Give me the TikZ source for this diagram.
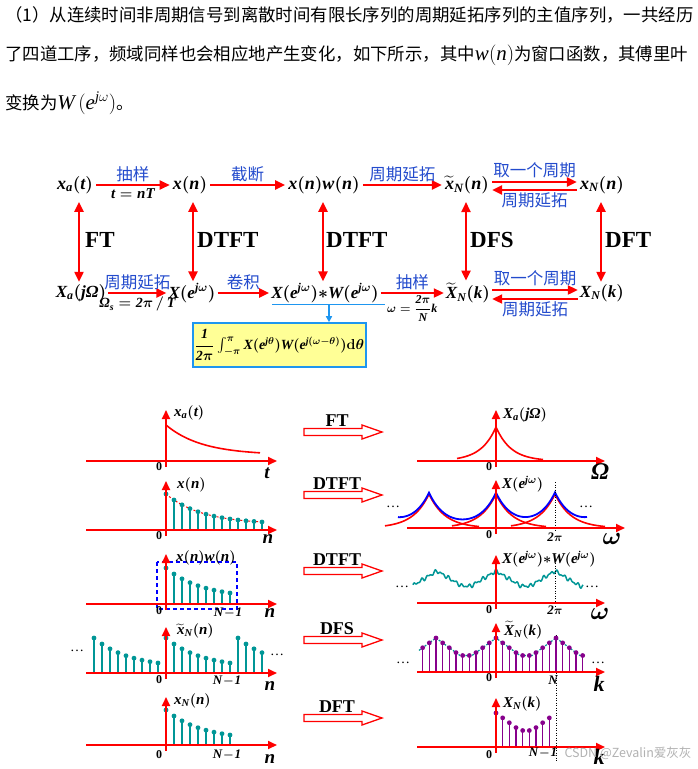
\documentclass[tikz,border=0pt]{standalone}
\usepackage{fontspec}
\usepackage{amsmath}
\setmainfont{Liberation Serif}
\newfontfamily\cjk{Noto Sans CJK SC}
\newfontfamily\tnr[NFSSFamily=lsr]{Liberation Serif}
\DeclareMathAlphabet{\mtb}{TU}{lsr}{bx}{it}
\DeclareMathAlphabet{\mti}{TU}{lsr}{m}{it}
\usetikzlibrary{arrows.meta}
\definecolor{lblue}{RGB}{35,75,205}
\definecolor{teal2}{RGB}{0,150,150}
\definecolor{purp}{RGB}{135,0,140}
\definecolor{boxblue}{RGB}{30,150,240}
\definecolor{boxyel}{RGB}{255,255,150}
\newcommand\mb[1]{{\boldmath$\mtb{#1}$}}
\newcommand\fs[1]{\fontsize{#1}{#1}\selectfont}
\newcommand\Om{\text{\bfseries\itshape Ω}}
\begin{document}
\begin{tikzpicture}[x=1pt,y=-1pt,
  tnode/.style={inner sep=3pt, font=\fs{18}},
  bnode/.style={inner sep=2pt, minimum height=22pt, font=\fs{17}},
  cn/.style={font=\cjk\fs{16.5}, text=lblue, inner sep=1pt},
  sub/.style={font=\fs{15}, inner sep=1pt},
  rarr/.style={draw=red, line width=2.2pt, -{Triangle[length=10pt,width=9pt]}},
  dbl/.style={draw=red, line width=2.2pt, {Triangle[length=10pt,width=9pt]}-{Triangle[length=10pt,width=9pt]}},
  tlab/.style={font=\bfseries\fs{23}, anchor=west, inner sep=0pt},
  axis/.style={draw=red, line width=1.8pt, -{Triangle[length=9pt,width=8pt]}},
  stem/.style={draw=teal2, line width=1.4pt},
  pstem/.style={draw=purp, line width=1.4pt},
  zero/.style={font=\bfseries\fs{12}, inner sep=0pt},
  plab/.style={font=\fs{15}, inner sep=0pt, anchor=west},
  alab/.style={font=\fs{19}, inner sep=0pt},
  nlab/.style={font=\fs{13}, inner sep=0pt},
  dots/.style={font=\fs{14}, inner sep=0pt},
  hol/.style={draw=red, line width=1.3pt, fill=white},
  hlab/.style={font=\bfseries\fs{18}, inner sep=0pt},
  vdots/.style={draw=black, line width=0.9pt, dash pattern=on 1pt off 1.5pt},
]
\useasboundingbox (0,0) rectangle (698,769);
\fill[white] (0,0) rectangle (698,769);

% ---------- paragraph ----------
\node[anchor=west, inner sep=0pt, font=\cjk\fs{17.4}] (p1) at (5,15) {（1）从连续时间非周期信号到离散时间有限长序列的周期延拓序列的主值序列，一共经历};
\node[anchor=west, inner sep=0pt, font=\cjk\fs{17.4}] (p2) at (5,55) {了四道工序，频域同样也会相应地产生变化，如下所示，其中{\fs{21}$\mti{w(n)}$}为窗口函数，其傅里叶};
\node[anchor=west, inner sep=0pt, font=\cjk\fs{17.4}] (p3) at (5,103) {变换为{\fs{21}$\mti{W\,(e^{j\omega})}$}。};

% ---------- flowchart ----------
\node[tnode] (xa) at (75,185) {\mb{x_a(t)}};
\node[tnode] (xn) at (190,185) {\mb{x(n)}};
\node[tnode] (xw) at (324,185) {\mb{x(n)w(n)}};
\node[tnode] (xt) at (467,185) {\mb{\widetilde{x}_N(n)}};
\node[tnode] (xN) at (602,185) {\mb{x_N(n)}};
\node[bnode] (Xa) at (81,293) {\mb{X_a(j\Om)}};
\node[bnode] (Xe) at (192,293) {\mb{X(e^{j\omega})}};
\node[bnode] (XW) at (325,293) {\mb{X(e^{j\omega}){\ast}W(e^{j\omega})}};
\node[bnode] (Xt) at (468,293) {\mb{\widetilde{X}_N(k)}};
\node[bnode] (XN) at (602,293) {\mb{X_N(k)}};

\draw[rarr] (xa) -- node[cn, above=1pt]{抽样} node[sub, below=2pt]{\mb{t=nT}} (xn);
\draw[rarr] (xn) -- node[cn, above=1pt]{截断} (xw);
\draw[rarr] (xw) -- node[cn, above=1pt]{周期延拓} (xt);
\draw[rarr] ([yshift=3pt]xt.east) -- node[cn, above=2pt]{取一个周期} ([yshift=3pt]xN.west);
\draw[rarr] ([yshift=-5pt]xN.west) -- node[cn, below=1pt]{周期延拓} ([yshift=-5pt]xt.east);

\draw[rarr] (Xa) -- node[cn, above=1pt]{周期延拓} node[sub, below=2pt, font=\fs{14}]{\mb{\Om_s=2\pi\,/\,T}} (Xe);
\draw[rarr] (Xe) -- node[cn, above=1pt]{卷积} (XW);
\draw[rarr] (XW) -- node[cn, above=1pt]{抽样} node[nlab, below=1pt, font=\fs{12}]{\mb{\omega=\dfrac{2\pi}{N}k}} (Xt);
\draw[rarr] ([yshift=3pt]Xt.east) -- node[cn, above=2pt]{取一个周期} ([yshift=3pt]XN.west);
\draw[rarr] ([yshift=-6pt]XN.west) -- node[cn, below=1pt]{周期延拓} ([yshift=-6pt]Xt.east);

\draw[dbl] ([xshift=4pt,yshift=-5pt]xa.south) -- ([xshift=4pt]xa.south |- Xa.north);
\draw[dbl] ([xshift=3pt,yshift=-5pt]xn.south) -- ([xshift=3pt]xn.south |- Xe.north);
\draw[dbl] ([xshift=-1pt,yshift=-5pt]xw.south) -- ([xshift=-1pt]xw.south |- XW.north);
\draw[dbl] ([xshift=-1pt,yshift=-5pt]xt.south) -- ([xshift=-1pt]xt.south |- Xt.north);
\draw[dbl] ([xshift=-1pt,yshift=-5pt]xN.south) -- ([xshift=-1pt]xN.south |- XN.north);
\node[tlab] (lFT) at (85,240) {FT};
\node[tlab] (lD1) at (197,240) {DTFT};
\node[tlab] (lD2) at (326,240) {DTFT};
\node[tlab] (lDS) at (470,240) {DFS};
\node[tlab] (lDF) at (605,240) {DFT};

\node[draw=boxblue, fill=boxyel, line width=1.6pt, minimum width=165pt, minimum height=44pt, inner sep=2pt, font=\fs{14}] (conv) at (279.5,345)
  {\mb{\dfrac{1}{2\pi}\int_{-\pi}^{\pi}X(e^{j\theta})W(e^{j(\omega-\theta)})\mathbf{d}\theta}};
\draw[boxblue, line width=1.6pt] ([xshift=3pt]XW.south west) -- ([xshift=4pt]XW.south east);
\draw[boxblue, line width=1.6pt, -{Triangle[length=6pt,width=6pt]}] ([xshift=4pt]XW.south) -- ([xshift=4pt]XW.south |- conv.north);

% ---------- hollow arrows ----------
\foreach \yy/\lab [count=\i] in {432/FT,495/DTFT,571/DTFT,640/DFS,718/DFT} {
  \draw[hol] (304,\yy-3.5) -- (362,\yy-3.5) -- (362,\yy-7) -- (382,\yy) -- (362,\yy+7) -- (362,\yy+3.5) -- (304,\yy+3.5) -- cycle;
  \node[hlab] (h\i) at (337,\yy-11.5) {\lab};
}

% ---------- left plots ----------
% L1
\draw[red, line width=1.6pt, domain=166:260, samples=60] plot (\x, {461-(6+30*0.8^((\x-166)/8))});
\draw[axis] (86,461) -- (277,461);
\draw[axis] (166,467) -- (166,410);
\node[plab] (l1) at (174,413) {\mb{x_a(t)}};
\node[zero] (z1) at (159,467) {0};
\node[alab] (t1) at (267,473) {\mb{t}};
% L2
\foreach \k in {0,...,12} {
  \pgfmathsetmacro\hh{6+30*0.8^\k}
  \draw[stem] (166+8*\k,530) -- (166+8*\k,530-\hh);
}
\draw[red, line width=1pt, dash pattern=on 2pt off 2pt, domain=166:262, samples=50] plot (\x, {530-(6+30*0.8^((\x-166)/8))});
\foreach \k in {0,...,12} {
  \pgfmathsetmacro\hh{6+30*0.8^\k}
  \fill[teal2] (166+8*\k,530-\hh) circle (2.4pt);
}
\draw[axis] (86,530) -- (277,530);
\draw[axis] (166,536) -- (166,481);
\node[plab] (l2) at (177,485) {\mb{x(n)}};
\node[zero] (z2) at (159,536) {0};
\node[alab] (n2) at (268,539) {\mb{n}};
% L3
\foreach \k in {0,...,8} {
  \pgfmathsetmacro\hh{6+30*0.8^\k}
  \draw[stem] (166+8*\k,604) -- (166+8*\k,604-\hh);
  \fill[teal2] (166+8*\k,604-\hh) circle (2.4pt);
}
\draw[blue, line width=1.2pt, dash pattern=on 4pt off 3pt] (157,562) rectangle (237,609);
\draw[axis] (86,604) -- (277,604);
\draw[axis] (166,610) -- (166,554);
\node[plab] (l3) at (176,558) {\mb{x(n)w(n)}};
\node[zero] (z3) at (159,611) {0};
\node[nlab] (m3) at (228,613) {\mb{N\!-\!1}};
\node[alab] (n3) at (270,613) {\mb{n}};
% L4
\foreach \k in {-9,...,12} {
  \pgfmathsetmacro\rr{Mod(\k,9)}
  \pgfmathsetmacro\hh{5+30*0.8^\rr}
  \draw[stem] (166+8*\k,673) -- (166+8*\k,673-\hh);
  \fill[teal2] (166+8*\k,673-\hh) circle (2.4pt);
}
\draw[axis] (86,673) -- (277,673);
\draw[axis] (166,679) -- (166,627);
\node[plab] (l4) at (177,631) {\mb{\widetilde{x}_N(n)}};
\node[dots] (d4a) at (77,651) {\ldots};
\node[dots] (d4b) at (277,655) {\ldots};
\node[zero] (z4) at (159,680) {0};
\node[nlab] (m4) at (227,681) {\mb{N\!-\!1}};
\node[alab] (n4) at (270,686) {\mb{n}};
% L5
\foreach \k in {0,...,8} {
  \pgfmathsetmacro\hh{5+30*0.8^\k}
  \draw[stem] (166+8*\k,745) -- (166+8*\k,745-\hh);
  \fill[teal2] (166+8*\k,745-\hh) circle (2.4pt);
}
\draw[axis] (86,745) -- (277,745);
\draw[axis] (166,751) -- (166,697);
\node[plab] (l5) at (174,701) {\mb{x_N(n)}};
\node[zero] (z5) at (159,755) {0};
\node[nlab] (m5) at (227,755) {\mb{N\!-\!1}};
\node[alab] (n5) at (270,759) {\mb{n}};

% ---------- right plots ----------
% R1
\draw[red, line width=1.6pt, domain=457:543, samples=87] plot (\x, {461-34*exp(-abs(\x-496)/15)});
\draw[axis] (417,461) -- (605,461);
\draw[axis] (496,467) -- (496,410);
\node[plab] (r1) at (503,415) {\mb{X_a(j\Om)}};
\node[zero] (rz1) at (489,467) {0};
\node[font=\fs{24}, inner sep=0pt] (O1) at (600,472) {\mb{\Om}};
% R2
\foreach \c in {429,496,555} {
  \draw[red, line width=1.6pt, domain=\c-44:\c+50, samples=95] plot (\x, {528-34*exp(-abs(\x-\c)/16)});
}
\draw[blue, line width=1.8pt, domain=398:587, samples=190] plot (\x, {528-(34*exp(-abs(\x-370)/16)+34*exp(-abs(\x-429)/16)+34*exp(-abs(\x-496)/16)+34*exp(-abs(\x-555)/16)+34*exp(-abs(\x-614)/16))});
\draw[vdots] (555,482) -- (555,532);
\draw[axis] (407,528) -- (625,528);
\draw[axis] (496,534) -- (496,480);
\node[plab] (r2) at (502,484) {\mb{X(e^{j\omega})}};
\node[dots] (d2a) at (393,507) {\ldots};
\node[dots] (d2b) at (586,507) {\ldots};
\node[zero] (rz2) at (489,535) {0};
\node[nlab] (tp2) at (555,537) {\mb{2\pi}};
\node[font=\fs{24}, inner sep=0pt] (w2) at (612,539) {\mb{\omega}};
% R3
\draw[teal2, line width=1.5pt, domain=413:583, samples=341] plot (\x, {603-(17+15*max(0,1-min(abs(\x-437),abs(\x-496),abs(\x-555))/25)+1.3*sin(53*(\x-413))+0.9*sin(83*(\x-413)+40))});
\draw[vdots] (555,563) -- (555,606);
\draw[axis] (417,603) -- (605,603);
\draw[axis] (496,609) -- (496,555);
\node[plab] (r3) at (502,559) {\mb{X(e^{j\omega}){\ast}W(e^{j\omega})}};
\node[dots] (d3a) at (402,587) {\ldots};
\node[dots] (d3b) at (592,587) {\ldots};
\node[zero] (rz3) at (489,610) {0};
\node[nlab] (tp3) at (555,610) {\mb{2\pi}};
\node[font=\fs{24}, inner sep=0pt] (w3) at (600,614) {\mb{\omega}};
% R4
\draw[vdots] (556,635) -- (556,762);
\draw[teal2, line width=1.2pt, dash pattern=on 2pt off 1.5pt, domain=419:585, samples=167] plot (\x, {672-(16.5+17.5*max(0,1-min(abs(\x-436),abs(\x-496),abs(\x-556))/24))});
\foreach \k in {-11,...,13} {
  \pgfmathsetmacro\rr{Mod(\k,9)}
  \pgfmathsetmacro\mm{min(\rr,9-\rr)}
  \pgfmathsetmacro\hh{16.5+17.5*max(0,1-\mm*6.667/24)}
  \draw[pstem] (496+6.667*\k,672) -- (496+6.667*\k,672-\hh);
  \fill[purp] (496+6.667*\k,672-\hh) circle (2.4pt);
}
\draw[axis] (417,672) -- (605,672);
\draw[axis] (496,678) -- (496,623);
\node[plab] (r4) at (504,630) {\mb{\widetilde{X}_N(k)}};
\node[dots] (d4c) at (403,663) {\ldots};
\node[dots] (d4d) at (598,663) {\ldots};
\node[zero] (rz4) at (489,678) {0};
\node[nlab] (N4) at (553,680) {\mb{N}};
\node[font=\fs{22}, inner sep=0pt] (k4) at (599,684) {\mb{k}};
% R5
\foreach \k in {0,...,8} {
  \pgfmathsetmacro\rr{Mod(\k,9)}
  \pgfmathsetmacro\mm{min(\rr,9-\rr)}
  \pgfmathsetmacro\hh{16.5+17.5*max(0,1-\mm*6.667/24)}
  \draw[pstem] (496+6.667*\k,747) -- (496+6.667*\k,747-\hh);
  \fill[purp] (496+6.667*\k,747-\hh) circle (2.4pt);
}
\draw[axis] (417,747) -- (605,747);
\draw[axis] (496,753) -- (496,698);
\node[plab] (r5) at (503,704) {\mb{X_N(k)}};
\node[zero] (rz5) at (489,755) {0};
\node[nlab] (m6) at (543,753) {\mb{N\!-\!1}};
\node[font=\fs{22}, inner sep=0pt] (k5) at (599,757) {\mb{k}};

% watermark
\node[font=\cjk\fs{12.5}, text=black!30, inner sep=0pt] (csdn) at (628,753) {CSDN @Zevalin爱灰灰};
\end{tikzpicture}
\end{document}
